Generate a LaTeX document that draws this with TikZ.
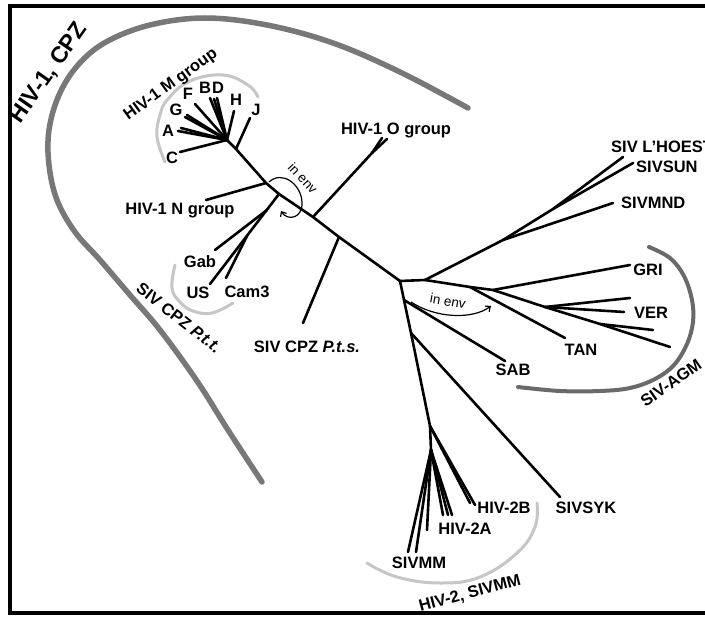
\documentclass[tikz,border=0pt]{standalone}
\usepackage{fontspec}
\setmainfont{Liberation Sans}
\usetikzlibrary{arrows.meta}
\definecolor{arcdark}{HTML}{787878}
\definecolor{arcmid}{HTML}{6A6A6A}
\definecolor{arclight}{HTML}{C6C6C6}
\begin{document}
\begin{tikzpicture}[x=1pt,y=-1pt,
  br/.style={line width=2.6pt, line cap=round},
  lab/.style={font=\fontsize{16.5}{18}\selectfont\bfseries, inner sep=0pt},
  envlab/.style={font=\fontsize{13.5}{15}\selectfont, inner sep=0pt},
  curl/.style={line width=1.2pt, -{Straight Barb[length=4pt,width=7pt]}},
  bigarc/.style={line width=5.5pt, draw=arcdark, line cap=round},
  agmarc/.style={line width=4pt, draw=arcmid, line cap=round},
  lightarc/.style={line width=3pt, draw=arclight, line cap=round}]
\useasboundingbox (0,0) rectangle (705,618);
\fill[white] (0,0) rectangle (705,618);
% frame
\draw[line width=4.5pt] (705,6) -- (10,6) -- (10,613) -- (705,613);

% ---------- group arcs ----------
\draw[bigarc] plot[smooth, tension=0.6] coordinates {(262,482) (228,430) (197,381) (160,330) (130,295) (100,260) (75,232) (57,200) (49,165) (49,130) (59,95) (78,65) (106,42) (150,25) (205,18) (267,25) (333,43) (400,72) (468,108)};
\draw[lightarc] plot[smooth, tension=0.7] coordinates {(165,162) (157,137) (160,115) (168,99) (190,81) (223,75) (248,85) (258,97)};
\draw[lightarc] plot[smooth, tension=0.7] coordinates {(175,265) (172,288) (180,302) (193,311) (212,313) (233,303)};
\draw[agmarc] plot[smooth, tension=0.6] coordinates {(649,247) (670,258) (684,276) (692,300) (693,322) (687,344) (674,365) (655,379) (630,388) (600,391) (560,391) (518,387)};
\draw[lightarc] plot[smooth, tension=0.7] coordinates {(367,563) (397,577) (440,583) (480,577) (517,553) (535,527) (537,503)};

% ---------- tree junctions ----------
\coordinate (mhub) at (227,140);
\coordinate (jr) at (236,149);
\coordinate (nj) at (266,183);
\coordinate (pttj) at (279,194);
\coordinate (gabj) at (267,210);
\coordinate (camj) at (247,236);
\coordinate (oj) at (313,217);
\coordinate (ofork) at (372,153);
\coordinate (ptsj) at (339,237);
\coordinate (cj) at (400,281);
\coordinate (aj) at (425,280);
\coordinate (mj) at (503,240);
\coordinate (sunj) at (553,209);
\coordinate (tj) at (470,287);
\coordinate (gj) at (493,290);
\coordinate (vj) at (545,307);
\coordinate (vj2) at (600,324);
\coordinate (sabj) at (404,300);
\coordinate (syj) at (411,333);
\coordinate (h2j) at (430,426);
\coordinate (h2aj) at (431,450);

% ---------- tips ----------
\coordinate (tC) at (180,152);
\coordinate (tA) at (178,131);
\coordinate (tAb) at (181,128);
\coordinate (tG) at (185,117);
\coordinate (tGb) at (187,115);
\coordinate (tF) at (195,104);
\coordinate (tB) at (210,98);
\coordinate (tDb) at (214,99);
\coordinate (tD) at (217,98);
\coordinate (tH) at (234,111);
\coordinate (tJ) at (250,118);
\coordinate (tN) at (206,200);
\coordinate (tGab) at (215,250);
\coordinate (tUS) at (210,284);
\coordinate (tCam) at (226,278);
\coordinate (tO1) at (382,138);
\coordinate (tO2) at (387,139);
\coordinate (tPts) at (303,323);
\coordinate (tL) at (623,157);
\coordinate (tS) at (633,163);
\coordinate (tMND) at (613,203);
\coordinate (tT) at (565,338);
\coordinate (tGRI) at (630,265);
\coordinate (tV1) at (630,298);
\coordinate (tV2) at (624,312);
\coordinate (tV3) at (653,330);
\coordinate (tV4) at (670,347);
\coordinate (tSAB) at (505,361);
\coordinate (tSYK) at (560,497);
\coordinate (tB1) at (470,503);
\coordinate (tB2) at (475,505);
\coordinate (tA1) at (443,515);
\coordinate (tA2) at (448,515);
\coordinate (tA3) at (452,515);
\coordinate (tMid) at (427,530);
\coordinate (tMM1) at (408,552);
\coordinate (tMM2) at (416,552);

% ---------- branches ----------
\draw[br] (mhub) -- (jr) -- (nj) -- (pttj) -- (oj) -- (ptsj) -- (cj);
\draw[br] (mhub) -- (tC);
\draw[br] (mhub) -- (tA);
\draw[br] (mhub) -- (tAb);
\draw[br] (mhub) -- (tG);
\draw[br] (mhub) -- (tGb);
\draw[br] (mhub) -- (tF);
\draw[br] (mhub) -- (tB);
\draw[br] (mhub) -- (tDb);
\draw[br] (mhub) -- (tD);
\draw[br] (mhub) -- (tH);
\draw[br] (jr) -- (tJ);
\draw[br] (nj) -- (tN);
\draw[br] (pttj) -- (tUS);
\draw[br] (gabj) -- (tGab);
\draw[br] (camj) -- (tCam);
\draw[br] (oj) -- (ofork) -- (tO1);
\draw[br] (ofork) -- (tO2);
\draw[br] (ptsj) -- (tPts);
\draw[br] (cj) -- (aj) -- (mj) -- (sunj) -- (tL);
\draw[br] (sunj) -- (tS);
\draw[br] (mj) -- (tMND);
\draw[br] (aj) -- (tj) -- (gj) -- (vj) -- (vj2) -- (tV4);
\draw[br] (tj) -- (tT);
\draw[br] (gj) -- (tGRI);
\draw[br] (vj) -- (tV1);
\draw[br] (vj) -- (tV2);
\draw[br] (vj2) -- (tV3);
\draw[br] (cj) -- (sabj) -- (syj) -- (h2j) -- (h2aj);
\draw[br] (sabj) -- (tSAB);
\draw[br] (syj) -- (tSYK);
\draw[br] (h2j) -- (tB1);
\draw[br] (h2j) -- (tB2);
\draw[br] (h2aj) -- (tA1);
\draw[br] (h2aj) -- (tA2);
\draw[br] (h2aj) -- (tA3);
\draw[br] (h2aj) -- (tMid);
\draw[br] (h2aj) -- (tMM1);
\draw[br] (h2aj) -- (tMM2);

% ---------- "in env" curls ----------
\coordinate (c1s) at (269,182);
\coordinate (c1e) at (281,211);
\draw[curl] (c1s) .. controls (282,170) and (301,184) .. (302,202) .. controls (303,219) and (287,221) .. (c1e);
\node[envlab, rotate=-47] (env1) at (303,178) {in env};
\coordinate (c2s) at (411,302);
\coordinate (c2e) at (491,306);
\draw[curl] (c2s) .. controls (435,318) and (472,320) .. (c2e);
\node[envlab, rotate=-10] (env2) at (448,301) {in env};

% ---------- leaf labels ----------
\node[lab] (lA) at (168,131) {A};
\node[lab] (lC) at (172,158) {C};
\node[lab] (lG) at (176,110) {G};
\node[lab] (lF) at (188,94) {F};
\node[lab] (lB) at (205,88) {B};
\node[lab] (lD) at (218,88) {D};
\node[lab] (lH) at (236,100) {H};
\node[lab] (lJ) at (256,110) {J};
\node[lab] (lN) at (180,211) {HIV-1 N group};
\node[lab] (lO) at (396,130) {HIV-1 O group};
\node[lab] (lGab) at (200,262) {Gab};
\node[lab] (lUS) at (198,293) {US};
\node[lab] (lCam) at (247,292) {Cam3};
\node[lab] (lPts) at (307,347) {SIV CPZ \textit{P.t.s.}};
\node[lab, anchor=west] (lL) at (611,147) {SIV L'HOEST};
\node[lab, anchor=west] (lS) at (636,167) {SIVSUN};
\node[lab, anchor=west] (lMND) at (621,203) {SIVMND};
\node[lab] (lGRI) at (648,270) {GRI};
\node[lab] (lVER) at (651,313) {VER};
\node[lab] (lTAN) at (581,350) {TAN};
\node[lab] (lSAB) at (513,370) {SAB};
\node[lab] (lSYK) at (586,508) {SIVSYK};
\node[lab] (lB2) at (504,508) {HIV-2B};
\node[lab] (lA2) at (465,529) {HIV-2A};
\node[lab] (lMM) at (419,563) {SIVMM};

% ---------- group labels ----------
\node[font=\fontsize{23}{25}\selectfont\bfseries, inner sep=0pt, rotate=55] (gCPZ) at (49,73) {HIV-1, CPZ};
\node[lab, rotate=36] (gM) at (171,85) {HIV-1 M group};
\node[lab, rotate=-38] (gPtt) at (179,318) {SIV CPZ \textit{P.t.t.}};
\node[lab, rotate=35] (gAGM) at (671,383) {SIV-AGM};
\node[lab, rotate=15] (gH2) at (470,594) {HIV-2, SIVMM};
\end{tikzpicture}
\end{document}
